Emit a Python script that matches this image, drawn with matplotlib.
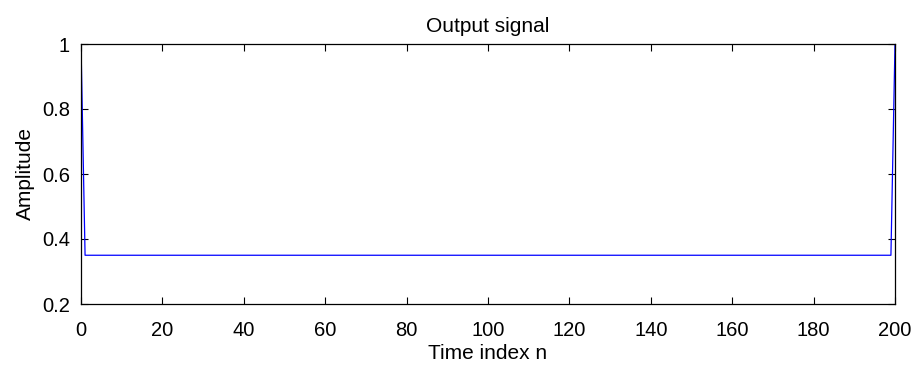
import matplotlib
matplotlib.use("Agg")
import matplotlib.pyplot as plt

# output signal: spike at both ends, flat level in between
n = [0, 1, 199, 200]
amplitude = [1.0, 0.35, 0.35, 1.0]

x_ticks = [0, 20, 40, 60, 80, 100, 120, 140, 160, 180, 200]
y_ticks = [0.2, 0.4, 0.6, 0.8, 1.0]
y_tick_labels = ["0.2", "0.4", "0.6", "0.8", "1"]

plt.rcParams["font.family"] = ["Liberation Sans", "DejaVu Sans"]
plt.rcParams["font.size"] = 14.5

fig = plt.figure(figsize=(9.2, 3.72), dpi=100)
ax = fig.add_axes([81 / 920, 1 - 304 / 372, (895 - 81) / 920, (304 - 44) / 372])

ax.plot(n, amplitude, color="#0000ff", lw=0.9)
ax.set_xlim(0, 200)
ax.set_ylim(0.2, 1.0)
ax.set_xticks(x_ticks)
ax.set_yticks(y_ticks)
ax.set_yticklabels(y_tick_labels)
ax.tick_params(direction="in", top=True, right=True, length=5, width=0.8)
ax.tick_params(axis="x", pad=12)
ax.tick_params(axis="y", pad=8)
for s in ax.spines.values():
    s.set_linewidth(0.9)

ax.set_title("Output signal", fontsize=15, pad=9)
ax.set_xlabel("Time index n", fontsize=15, labelpad=3)
ax.set_ylabel("Amplitude", fontsize=15, labelpad=5)

fig.savefig("out.png", dpi=100)
